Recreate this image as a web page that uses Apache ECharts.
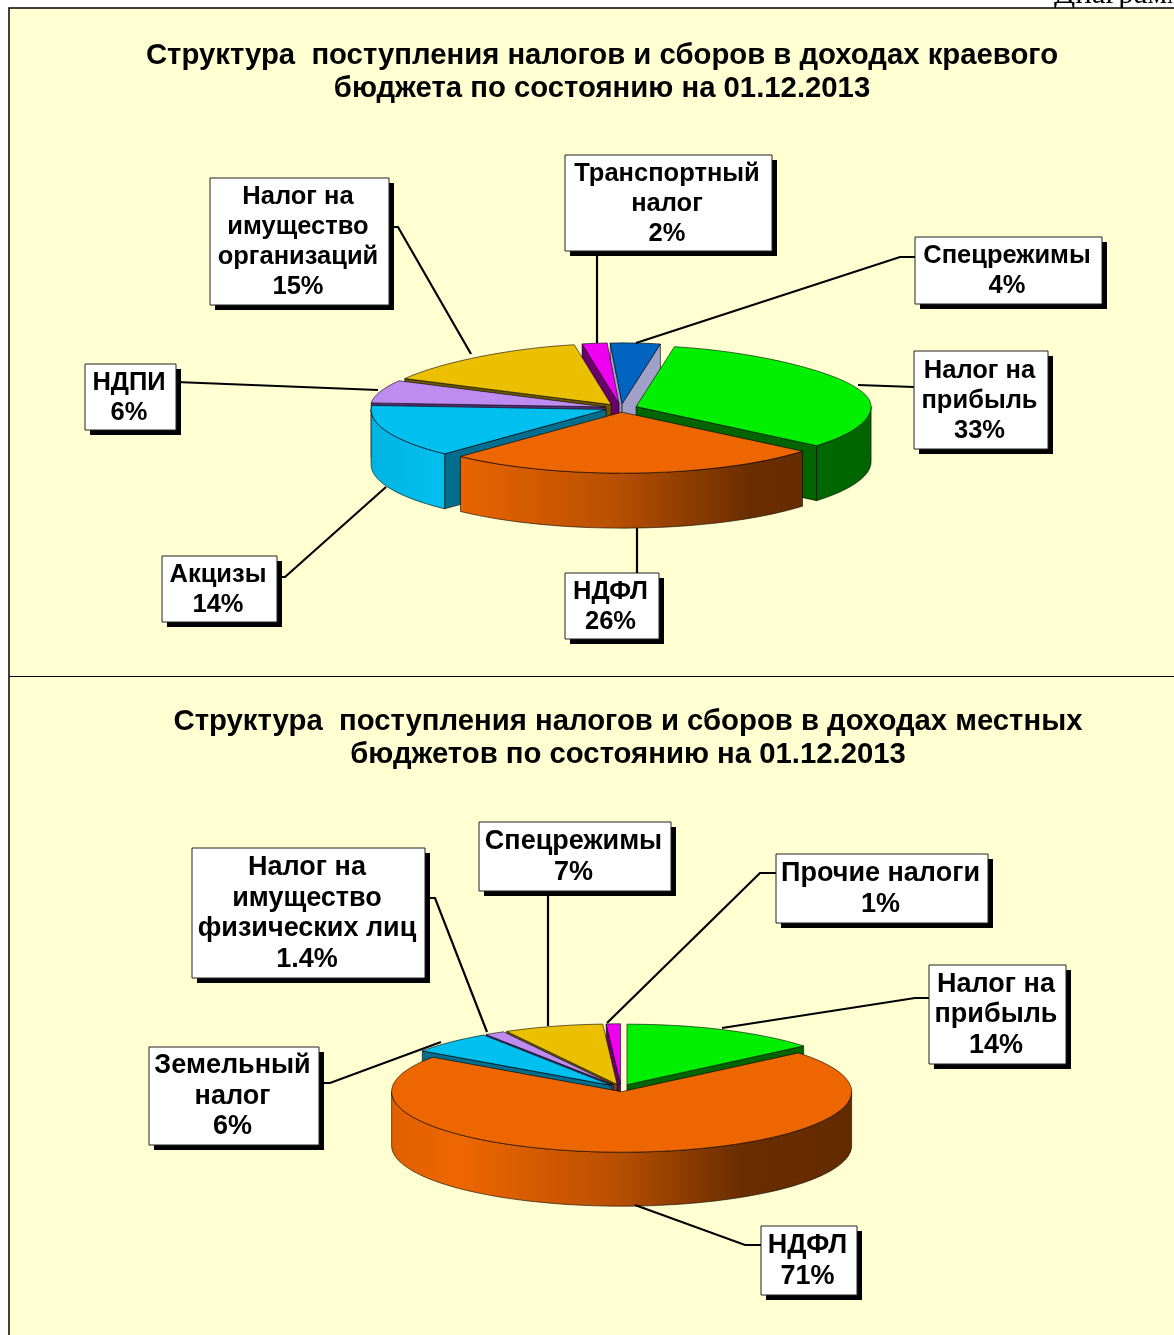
<!DOCTYPE html>
<html>
<head>
<meta charset="utf-8">
<style>
html, body { margin: 0; padding: 0; background: #fff; }
#demo { width: 1174px; height: 1335px; }
</style>
<script src="https://cdn.jsdelivr.net/npm/echarts@6/dist/echarts.min.js"></script>
</head>
<body>
<div id="demo"></div>
<script>
var title1 = 'Структура  поступления налогов и сборов в доходах краевого\nбюджета по состоянию на 01.12.2013';
var title2 = 'Структура  поступления налогов и сборов в доходах местных\nбюджетов по состоянию на 01.12.2013';

// верхняя диаграмма
var names1 = ['Налог на\nприбыль', 'НДФЛ', 'Акцизы', 'НДПИ', 'Налог на\nимущество\nорганизаций', 'Транспортный\nналог', 'Спецрежимы'];
var values1 = [33, 26, 14, 6, 15, 2, 4];
var colors1 = ['#00f000', '#ee6600', '#00c0f0', '#be8cf0', '#ebc000', '#f000f0', '#0064c0'];
var cuts1 = ['#006400', '#6b2e00', '#006e8c', '#55307a', '#6a5600', '#6a006a', '#a0a0c8'];

// нижняя диаграмма
var names2 = ['Налог на\nприбыль', 'НДФЛ', 'Земельный\nналог', 'Налог на\nимущество\nфизических лиц', 'Спецрежимы', 'Прочие налоги'];
var values2 = [14, 71, 6, 1.4, 7, 1];
var colors2 = ['#00f000', '#ee6600', '#00c0f0', '#be8cf0', '#ebc000', '#f000f0'];
var cuts2 = ['#006400', '#6b2e00', '#006e8c', '#55307a', '#6a5600', '#6a006a'];

// back - сужение диаграммы к дальнему краю (перспектива)
var pie1 = { cx: 621, cy: 408, rx: 235, ry: 61, depth: 55, explode: 16, start: 11, left: 370, right: 872, back: 0.15, font: 25.5, lineH: 30 };
var pie2 = { cx: 621, cy: 1088, rx: 230, ry: 60.5, depth: 54, explode: 14, start: 0, left: 391, right: 852, back: 0, font: 27, lineH: 30.5 };

// подписи: рамка [x0, y0, x1, y1] и линия-выноска
var boxes1 = [
    { box: [914, 351, 1048, 449], line: [[914, 387], [858, 385]] },
    { box: [565, 573, 659, 639], line: [[637, 573], [637, 528]] },
    { box: [162, 556, 277, 622], line: [[277, 577], [285, 577], [386, 487]] },
    { box: [85, 364, 176, 430], line: [[176, 382], [378, 390]] },
    { box: [210, 178, 389, 305], line: [[389, 227], [398, 227], [471, 354]] },
    { box: [565, 155, 772, 251], line: [[597, 251], [597, 343]] },
    { box: [915, 237, 1102, 304], line: [[915, 257], [900, 257], [636, 343]] }
];
var boxes2 = [
    { box: [929, 965, 1066, 1064], line: [[929, 998], [915, 998], [722, 1028]] },
    { box: [761, 1226, 857, 1295], line: [[761, 1245], [745, 1245], [635, 1205]] },
    { box: [149, 1047, 319, 1145], line: [[319, 1083], [330, 1083], [441, 1042]] },
    { box: [192, 848, 425, 978], line: [[425, 898], [435, 898], [487, 1032]] },
    { box: [479, 822, 671, 891], line: [[548, 891], [548, 1026]] },
    { box: [776, 854, 988, 923], line: [[776, 873], [760, 873], [607, 1023]] }
];

var outline = 'rgba(0,0,0,0.85)';
var labelFont = 'Liberation Sans';

function shade(hex, k) {
    var n = parseInt(hex.slice(1), 16);
    var r = Math.round((n >> 16 & 255) * k);
    var g = Math.round((n >> 8 & 255) * k);
    var b = Math.round((n & 255) * k);
    return 'rgb(' + r + ',' + g + ',' + b + ')';
}

function rad(a) { return a * Math.PI / 180; }

function makeSlices(values, start) {
    var total = 0, i;
    for (i = 0; i < values.length; i++) total += values[i];
    var res = [], a = start;
    for (i = 0; i < values.length; i++) {
        var w = values[i] / total * 360;
        res.push({ a0: a, a1: a + w, mid: a + w / 2 });
        a += w;
    }
    // дальние секторы рисуем первыми
    var order = res.slice().sort(function (p, q) {
        return -Math.cos(rad(p.mid)) - (-Math.cos(rad(q.mid)));
    });
    for (i = 0; i < order.length; i++) order[i].rank = i;
    return res;
}

function arcPoints(c, pie, a0, a1, dy) {
    var pts = [], n = Math.max(2, Math.ceil((a1 - a0) / 2));
    for (var i = 0; i <= n; i++) {
        var a = rad(a0 + (a1 - a0) * i / n);
        var k = Math.cos(a);
        var f = k > 0 ? 1 - pie.back * k * k : 1;
        pts.push([c[0] + pie.rx * Math.sin(a) * f, c[1] - pie.ry * k + dy]);
    }
    return pts;
}

function sideGradient(pie, color) {
    return {
        type: 'linear', global: true,
        x: pie.left, y: 0, x2: pie.right, y2: 0,
        colorStops: [
            { offset: 0, color: shade(color, 0.94) },
            { offset: 0.15, color: shade(color, 1) },
            { offset: 0.48, color: shade(color, 0.78) },
            { offset: 0.76, color: shade(color, 0.44) },
            { offset: 1, color: shade(color, 0.42) }
        ]
    };
}

function pieRenderer(pie, slices, colors, cuts) {
    return function (params) {
        var s = slices[params.dataIndex];
        var color = colors[params.dataIndex];
        var ratio = pie.ry / pie.rx;
        var c = [
            pie.cx + pie.explode * Math.sin(rad(s.mid)),
            pie.cy - pie.explode * ratio * Math.cos(rad(s.mid))
        ];
        var base = s.rank * 10;
        var kids = [];

        function cut(a) {
            var p = arcPoints(c, pie, a, a, 0)[0];
            kids.push({
                type: 'polygon', z2: base + 1,
                shape: { points: [c, p, [p[0], p[1] + pie.depth], [c[0], c[1] + pie.depth]] },
                style: { fill: cuts[params.dataIndex], stroke: outline, lineWidth: 0.7 }
            });
        }
        if (Math.sin(rad(s.a0)) < 0) cut(s.a0);
        if (Math.sin(rad(s.a1)) > 0) cut(s.a1);

        var from = Math.max(s.a0, 90), to = Math.min(s.a1, 270);
        if (to > from) {
            var up = arcPoints(c, pie, from, to, 0);
            var down = arcPoints(c, pie, from, to, pie.depth).reverse();
            kids.push({
                type: 'polygon', z2: base + 2,
                shape: { points: up.concat(down) },
                style: { fill: sideGradient(pie, color), stroke: outline, lineWidth: 0.7 }
            });
        }

        kids.push({
            type: 'polygon', z2: base + 3,
            shape: { points: [c].concat(arcPoints(c, pie, s.a0, s.a1, 0)) },
            style: { fill: color, stroke: outline, lineWidth: 0.7 }
        });
        return { type: 'group', children: kids };
    };
}

function labelElements(names, values, boxes, pie) {
    var els = [];
    for (var i = 0; i < names.length; i++) {
        var b = boxes[i].box;
        els.push({
            type: 'polyline', z: 5, silent: true,
            shape: { points: boxes[i].line },
            style: { fill: 'none', stroke: '#000', lineWidth: 2.2 }
        });
        els.push({
            type: 'rect', z: 6, silent: true,
            shape: { x: b[0] + 5, y: b[1] + 5, width: b[2] - b[0], height: b[3] - b[1] },
            style: { fill: '#000' }
        });
        els.push({
            type: 'rect', z: 7, silent: true,
            shape: { x: b[0], y: b[1], width: b[2] - b[0], height: b[3] - b[1] },
            style: { fill: '#fff', stroke: '#222', lineWidth: 1 }
        });
        els.push({
            type: 'text', z: 8, silent: true,
            x: (b[0] + b[2]) / 2 - 1.5, y: (b[1] + b[3]) / 2 + 0.5,
            style: {
                text: names[i] + '\n' + values[i] + '%',
                fill: '#000',
                font: 'bold ' + pie.font + 'px "' + labelFont + '"',
                lineHeight: pie.lineH,
                align: 'center',
                verticalAlign: 'middle'
            }
        });
    }
    return els;
}

var slices1 = makeSlices(values1, pie1.start);
var slices2 = makeSlices(values2, pie2.start);

var myChart = echarts.init(document.getElementById('demo'));

var frame = [
    {
        type: 'text', z: 0, silent: true,
        x: 1054, y: -21,
        style: { text: 'Диаграмма', fill: '#000', font: '31px "Liberation Serif"' }
    },
    {
        type: 'rect', z: 1, silent: true,
        shape: { x: 9, y: 8, width: 1170, height: 1335 },
        style: { fill: '#ffffd2', stroke: '#000', lineWidth: 1.5 }
    },
    {
        type: 'line', z: 2, silent: true,
        shape: { x1: 9, y1: 676.5, x2: 1174, y2: 676.5 },
        style: { stroke: '#000', lineWidth: 1.2 }
    }
];

var titleStyle = {
    fontFamily: 'Liberation Sans', fontWeight: 'bold', fontSize: 29.3, lineHeight: 33, color: '#000'
};

var option = {
    animation: false,
    backgroundColor: '#fff',
    title: [
        { text: title1, left: 597, top: 34, textAlign: 'center', textStyle: titleStyle },
        { text: title2, left: 623, top: 700, textAlign: 'center', textStyle: titleStyle }
    ],
    graphic: { elements: frame.concat(labelElements(names1, values1, boxes1, pie1), labelElements(names2, values2, boxes2, pie2)) },
    series: [
        {
            type: 'custom', coordinateSystem: 'none', silent: true, z: 3,
            renderItem: pieRenderer(pie1, slices1, colors1, cuts1),
            data: values1
        },
        {
            type: 'custom', coordinateSystem: 'none', silent: true, z: 3,
            renderItem: pieRenderer(pie2, slices2, colors2, cuts2),
            data: values2
        }
    ]
};
myChart.setOption(option);
</script>
</body>
</html>
